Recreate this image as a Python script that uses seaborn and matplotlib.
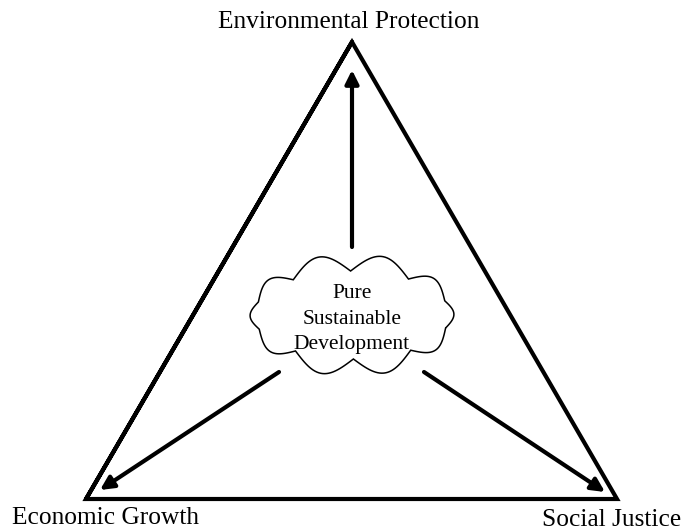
import numpy as np
import seaborn as sns
import matplotlib.pyplot as plt

# diagram nodes (pixel-like coordinates, y grows downward)
corner_names = ['Environmental Protection', 'Economic Growth', 'Social Justice']
corner_x = [352, 86, 617]
corner_y = [42, 499, 499]
label_x = [349, 106, 612]
label_y = [22, 518, 520]

cloud_text = 'Pure\nSustainable\nDevelopment'
cloud_center = (352, 315)
cloud_axes = (98, 44)

# arrows: start (near cloud) -> end (near corner)
arrow_start_x = [352, 279, 424]
arrow_start_y = [247, 372, 372]
arrow_end_x = [352, 100, 605]
arrow_end_y = [70, 490, 492]

sns.set_style('white')
plt.rcParams['font.family'] = ['Liberation Serif', 'DejaVu Serif']
plt.rcParams['text.color'] = 'black'

fig, ax = plt.subplots(figsize=(6.87, 5.31), dpi=100)
fig.subplots_adjust(0, 0, 1, 1)

# triangle
tx = corner_x + [corner_x[0], corner_x[1]]
ty = corner_y + [corner_y[0], corner_y[1]]
sns.lineplot(x=tx, y=ty, sort=False, estimator=None, color='black', lw=3.0,
             ax=ax, solid_joinstyle='miter')

# arrows
for x0, y0, x1, y1 in zip(arrow_start_x, arrow_start_y, arrow_end_x, arrow_end_y):
    ax.annotate('', xy=(x1, y1), xytext=(x0, y0),
                arrowprops=dict(arrowstyle='-|>', color='black', lw=3,
                                mutation_scale=20, shrinkA=0, shrinkB=0))

# cloud outline: scallops between points on an ellipse
n_bumps = 10
ang = np.linspace(0, 2 * np.pi, n_bumps + 1) + 0.3
px = cloud_center[0] + cloud_axes[0] * np.cos(ang)
py = cloud_center[1] + cloud_axes[1] * np.sin(ang)
xs, ys = [], []
s = np.linspace(0, 1, 30)
for i in range(n_bumps):
    dx, dy = px[i + 1] - px[i], py[i + 1] - py[i]
    L = np.hypot(dx, dy)
    nx, ny = dy / L, -dx / L
    mx, my = (px[i] + px[i + 1]) / 2, (py[i] + py[i + 1]) / 2
    if (mx - cloud_center[0]) * nx + (my - cloud_center[1]) * ny < 0:
        nx, ny = -nx, -ny
    h = 0.32 * L
    xs.extend(px[i] + s * dx + nx * h * np.sin(np.pi * s))
    ys.extend(py[i] + s * dy + ny * h * np.sin(np.pi * s))
ax.fill(xs, ys, facecolor='white', edgecolor='black', lw=1.1, zorder=5)
ax.text(cloud_center[0], cloud_center[1] + 4, cloud_text, ha='center', va='center',
        fontsize=15.5, linespacing=1.45, zorder=6)

for name, x, y in zip(corner_names, label_x, label_y):
    ax.text(x, y, name, ha='center', va='center', fontsize=18.3)

ax.set_xlim(0, 687)
ax.set_ylim(531, 0)
ax.set_axis_off()
fig.savefig('out.png', dpi=100)
